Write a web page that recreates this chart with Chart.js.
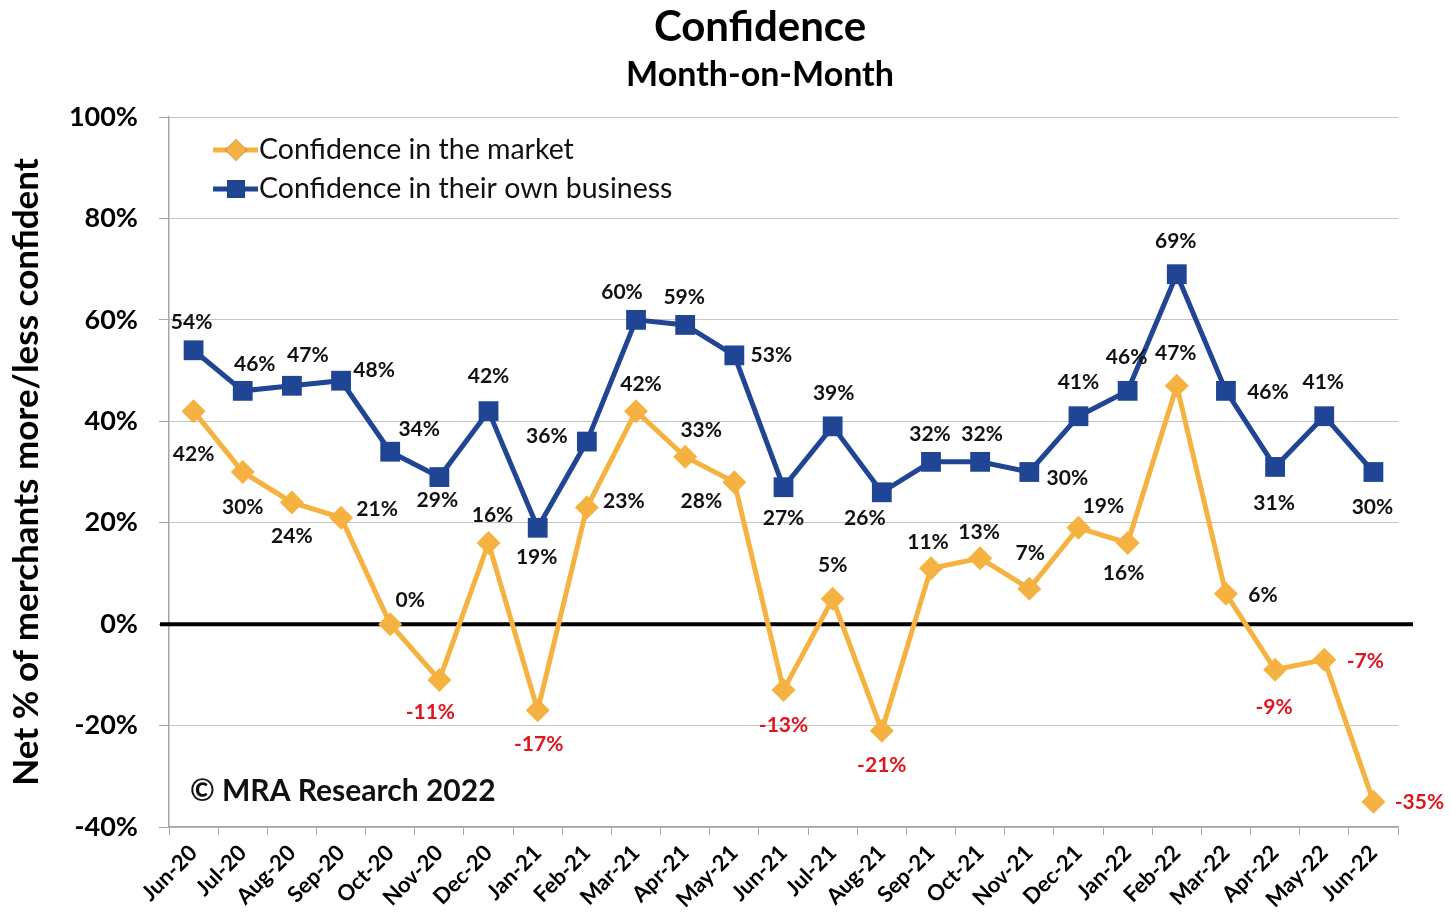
<!DOCTYPE html>
<html>
<head>
<meta charset="utf-8">
<title>Confidence – Month-on-Month</title>
<script src="https://cdn.jsdelivr.net/npm/chart.js@4/dist/chart.umd.min.js"></script>
<style>
  html, body { margin: 0; padding: 0; background: #ffffff; }
  #wrap { width: 1451px; height: 916px; }
</style>
</head>
<body>
<div id="wrap"><canvas id="chart" width="1451" height="916"></canvas></div>
<script>
// Survey months
const months = [
  'Jun-20', 'Jul-20', 'Aug-20', 'Sep-20', 'Oct-20', 'Nov-20', 'Dec-20',
  'Jan-21', 'Feb-21', 'Mar-21', 'Apr-21', 'May-21', 'Jun-21', 'Jul-21',
  'Aug-21', 'Sep-21', 'Oct-21', 'Nov-21', 'Dec-21', 'Jan-22', 'Feb-22',
  'Mar-22', 'Apr-22', 'May-22', 'Jun-22'
];

// Net % of merchants more/less confident in the market
const marketConfidence = [
  42, 30, 24, 21, 0, -11, 16, -17, 23, 42, 33, 28, -13,
  5, -21, 11, 13, 7, 19, 16, 47, 6, -9, -7, -35
];

// Net % of merchants more/less confident in their own business
const ownBusinessConfidence = [
  54, 46, 47, 48, 34, 29, 42, 19, 36, 60, 59, 53, 27,
  39, 26, 32, 32, 30, 41, 46, 69, 46, 31, 41, 30
];

// Value axis ticks
const yTickValues = [-40, -20, 0, 20, 40, 60, 80, 100];

// Where each value label sits relative to its point (dx, dy in px)
const marketLabelOffsets = [
  [0, 43], [0, 35], [0, 34], [36, -8], [20, -24], [-9, 32], [4, -28],
  [1, 34], [37, -6], [5, -27], [16, -27], [-33, 19], [0, 35], [0, -34],
  [0, 35], [-3, -26], [-1, -26], [1, -35], [25, -22], [-4, 30], [-1, -33],
  [37, 2], [-1, 37], [41, 2], [46, 1]
];
const ownLabelOffsets = [
  [-2, -28], [12, -27], [16, -31], [33, -10], [29, -22], [-2, 23], [0, -35],
  [-1, 29], [-40, -5], [-14, -28], [-1, -28], [37, 0], [0, 31], [1, -33],
  [-17, 26], [-1, -28], [2, -28], [38, 6], [0, -34], [-1, -34], [-1, -33],
  [42, 1], [-1, 36], [-1, -34], [-1, 35]
];

const ORANGE = '#F5B240';
const BLUE = '#1F4594';
const RED = '#E0161E';
const FONT = 'Lato, "Open Sans", "DejaVu Sans", sans-serif';

// Heavy zero line across the plot
const zeroLine = {
  id: 'zeroLine',
  beforeDatasetsDraw(chart) {
    const { ctx, chartArea } = chart;
    const y0 = chart.scales.y.getPixelForValue(0);
    ctx.save();
    ctx.strokeStyle = '#000000';
    ctx.lineWidth = 4;
    ctx.beginPath();
    ctx.moveTo(chartArea.left - 9, y0);
    ctx.lineTo(chartArea.right + 15, y0);
    ctx.stroke();
    ctx.restore();
  }
};

// Value labels next to every point
const valueLabels = {
  id: 'valueLabels',
  afterDatasetsDraw(chart) {
    const { ctx } = chart;
    ctx.save();
    ctx.font = 'bold 21px ' + FONT;
    ctx.textAlign = 'center';
    ctx.textBaseline = 'middle';
    chart.data.datasets.forEach((ds, di) => {
      const meta = chart.getDatasetMeta(di);
      meta.data.forEach((pt, i) => {
        const v = ds.data[i];
        const off = ds.labelOffsets[i];
        ctx.fillStyle = v < 0 ? RED : '#111111';
        ctx.fillText(v + '%', pt.x + off[0], pt.y + off[1]);
      });
    });
    ctx.restore();
  }
};

// Titles, in-plot legend and copyright note
const decorations = {
  id: 'decorations',
  afterDraw(chart) {
    const { ctx, chartArea } = chart;
    ctx.save();
    ctx.fillStyle = '#000000';
    ctx.textAlign = 'center';
    ctx.textBaseline = 'middle';
    ctx.font = 'bold 42px ' + FONT;
    ctx.fillText('Confidence', 760, 27);
    ctx.font = 'bold 34px ' + FONT;
    ctx.fillText('Month-on-Month', 760, 75);

    // legend
    const x0 = chartArea.left + 44;
    const rows = [
      { ds: chart.data.datasets[0], y: chartArea.top + 33 },
      { ds: chart.data.datasets[1], y: chartArea.top + 72 }
    ];
    rows.forEach(r => {
      ctx.strokeStyle = r.ds.borderColor;
      ctx.lineWidth = 5;
      ctx.beginPath();
      ctx.moveTo(x0, r.y);
      ctx.lineTo(x0 + 45, r.y);
      ctx.stroke();
      Chart.helpers.drawPoint(ctx, {
        pointStyle: r.ds.pointStyle,
        radius: r.ds.pointRadius * 0.9,
        rotation: 0,
        borderWidth: 0
      }, x0 + 23, r.y);
      ctx.fillStyle = r.ds.borderColor;
      ctx.fill();
      ctx.fillStyle = '#111111';
      ctx.textAlign = 'left';
      ctx.font = '28.5px ' + FONT;
      ctx.fillText(r.ds.label, x0 + 46, r.y);
    });

    ctx.font = 'bold 30px ' + FONT;
    ctx.textAlign = 'left';
    ctx.fillStyle = '#111111';
    ctx.fillText('\u00A9 MRA Research 2022', chartArea.left + 21, 791);
    ctx.restore();
  }
};

new Chart(document.getElementById('chart'), {
  type: 'line',
  data: {
    labels: months,
    datasets: [
      {
        label: 'Confidence in the market',
        data: marketConfidence,
        labelOffsets: marketLabelOffsets,
        borderColor: ORANGE,
        backgroundColor: ORANGE,
        borderWidth: 5,
        pointStyle: 'rectRot',
        pointRadius: 12,
        pointBorderWidth: 0,
        pointBackgroundColor: ORANGE,
        tension: 0
      },
      {
        label: 'Confidence in their own business',
        data: ownBusinessConfidence,
        labelOffsets: ownLabelOffsets,
        borderColor: BLUE,
        backgroundColor: BLUE,
        borderWidth: 5,
        pointStyle: 'rect',
        pointRadius: 14,
        pointBorderWidth: 0,
        pointBackgroundColor: BLUE,
        tension: 0
      }
    ]
  },
  options: {
    responsive: false,
    animation: false,
    events: [],
    layout: { padding: { top: 117, right: 53, bottom: 0, left: 0 } },
    plugins: {
      legend: { display: false },
      title: { display: false },
      tooltip: { enabled: false }
    },
    scales: {
      x: {
        offset: true,
        grid: {
          offset: true,
          drawOnChartArea: false,
          drawTicks: true,
          tickLength: 8,
          color: '#a6a6a6'
        },
        border: { color: '#a6a6a6', width: 1.5 },
        ticks: {
          autoSkip: false,
          maxRotation: 45,
          minRotation: 45,
          padding: 5,
          color: '#000000',
          font: { family: FONT, size: 22, weight: 'bold' }
        },
        afterFit(scale) { scale.height = 89; }
      },
      y: {
        min: -40,
        max: 100,
        afterBuildTicks(scale) {
          scale.ticks = yTickValues.map(v => ({ value: v }));
        },
        grid: {
          color: '#c4c4c4',
          lineWidth: 1,
          tickLength: 10,
          tickColor: '#a6a6a6'
        },
        border: { color: '#a6a6a6', width: 1.5 },
        ticks: {
          padding: 21,
          color: '#000000',
          font: { family: FONT, size: 27, weight: 'bold' },
          callback: v => v + '%'
        },
        title: {
          display: true,
          text: 'Net % of merchants more/less confident',
          color: '#000000',
          font: { family: FONT, size: 35, weight: 'bold' },
          padding: { top: 6, bottom: 0 }
        },
        afterFit(scale) { scale.width = 169; }
      }
    }
  },
  plugins: [zeroLine, valueLabels, decorations]
});
</script>
</body>
</html>
